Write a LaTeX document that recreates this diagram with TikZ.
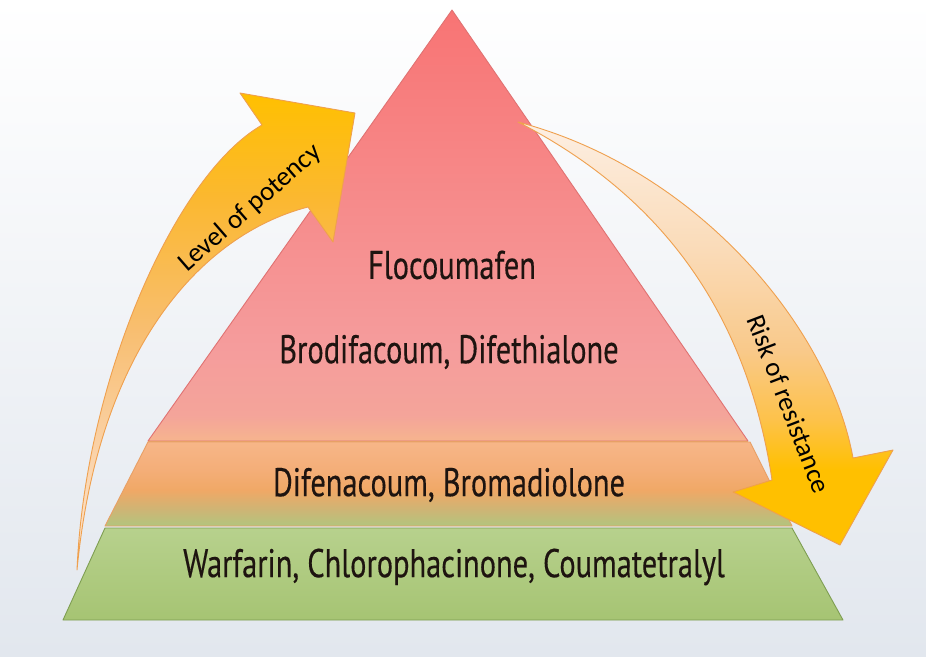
\documentclass[tikz,border=0pt]{standalone}
\usepackage{fontspec}
\setmainfont{PT Sans}
\newfontfamily\pyrfont{PT Sans}[FakeStretch=0.76,FakeBold=0.3]
\newfontfamily\arrowfont{Carlito}
\usetikzlibrary{shadings}

\definecolor{bgtop}{HTML}{FFFFFF}
\definecolor{bgbot}{HTML}{E2E7EE}
\definecolor{triA}{HTML}{F6B48E}
\definecolor{triB}{HTML}{F4A49A}
\definecolor{triC}{HTML}{F59C9C}
\definecolor{triD}{HTML}{F87474}
\definecolor{midA}{HTML}{F7B688}
\definecolor{midB}{HTML}{F4AE78}
\definecolor{midC}{HTML}{F0A866}
\definecolor{midD}{HTML}{CDB575}
\definecolor{midE}{HTML}{B2C57E}
\definecolor{botTop}{HTML}{B7D18D}
\definecolor{botBot}{HTML}{A6C473}
\definecolor{triEdge}{HTML}{E07272}
\definecolor{midEdge}{HTML}{E8A066}
\definecolor{botEdge}{HTML}{7E9E52}
\definecolor{arrEdge}{HTML}{EFA04E}
\definecolor{laA}{HTML}{FDE8D6}
\definecolor{laB}{HTML}{FAD2A8}
\definecolor{laC}{HTML}{F8BE70}
\definecolor{laD}{HTML}{FBB830}
\definecolor{gold}{HTML}{FFC000}
\definecolor{raA}{HTML}{FDEFE3}
\definecolor{raB}{HTML}{FADBB8}
\definecolor{raC}{HTML}{F9C98A}
\definecolor{raD}{HTML}{FDC24A}
\definecolor{txt}{HTML}{1E1410}

\pgfdeclareverticalshading{trishade}{100bp}{color(0bp)=(triA); color(25bp)=(triA); color(28bp)=(triB); color(36bp)=(triC); color(75bp)=(triD); color(100bp)=(triD)}
\pgfdeclareverticalshading{midshade}{100bp}{color(0bp)=(midE); color(25bp)=(midE); color(34.5bp)=(midD); color(46.4bp)=(midC); color(58.3bp)=(midB); color(75bp)=(midA); color(100bp)=(midA)}
\pgfdeclareverticalshading{lashade}{100bp}{color(0bp)=(laA); color(25bp)=(laA); color(37.6bp)=(laB); color(50.2bp)=(laC); color(64bp)=(laD); color(75bp)=(gold); color(100bp)=(gold)}
\pgfdeclareverticalshading{rashade}{100bp}{color(0bp)=(gold); color(33.9bp)=(gold); color(39.8bp)=(raD); color(48bp)=(raC); color(59.9bp)=(raB); color(75bp)=(raA); color(100bp)=(raA)}

\tikzset{
  layer/.style={line width=0.9pt, line join=round},
  pyrtext/.style={font=\pyrfont\fontsize{40}{46}\selectfont, text=txt, inner sep=0pt},
  arrtext/.style={font=\arrowfont\fontsize{27}{32}\selectfont, text=black, inner sep=0pt},
  blockarrow/.style={draw=arrEdge, line width=0.9pt, line join=round}
}

\begin{document}
\begin{tikzpicture}[x=1pt,y=-1pt]
\useasboundingbox (0,0) rectangle (926,656);
\fill[top color=bgtop, bottom color=bgbot] (0,0) rectangle (926,656);

% bottom layer
\draw[layer, draw=botEdge, top color=botTop, bottom color=botBot]
  (105,528) -- (792,528) -- (843,620) -- (63,620) -- cycle;
% middle layer
\draw[layer, draw=midEdge, shading=midshade]
  (148,442) -- (750,442) -- (792,526) -- (105,526) -- cycle;
% top triangle
\draw[layer, draw=triEdge, shading=trishade]
  (452,10) -- (748,441) -- (148,441) -- cycle;
\draw[draw=midEdge, line width=0.9pt] (148,441) -- (748,441);

\node[pyrtext] (flo) at (452,265) {Flocoumafen};
\node[pyrtext] (bro) at (449,352) {Brodifacoum, Difethialone};
\node[pyrtext] (dif) at (449,485) {Difenacoum, Bromadiolone};
\node[pyrtext] (war) at (454,567) {Warfarin, Chlorophacinone, Coumatetralyl};

% left curved arrow
\draw[blockarrow, shading=lashade]
  (77,570) .. controls (85,380) and (175,175) .. (262,125)
  -- (240,93) -- (355,113) -- (333,242) -- (308,207)
  .. controls (200,235) and (98,350) .. (77,570) -- cycle;
\node[arrtext, rotate=41] (pot) at (250,208) {Level of potency};

% right curved arrow
\draw[blockarrow, shading=rashade]
  (518,122) .. controls (700,170) and (830,330) .. (853,458)
  -- (893,450) -- (840,545) -- (733,492) -- (772,480)
  .. controls (745,300) and (650,190) .. (518,122) -- cycle;
\node[arrtext, rotate=-69] (res) at (789,404) {Risk of resistance};
\end{tikzpicture}
\end{document}
